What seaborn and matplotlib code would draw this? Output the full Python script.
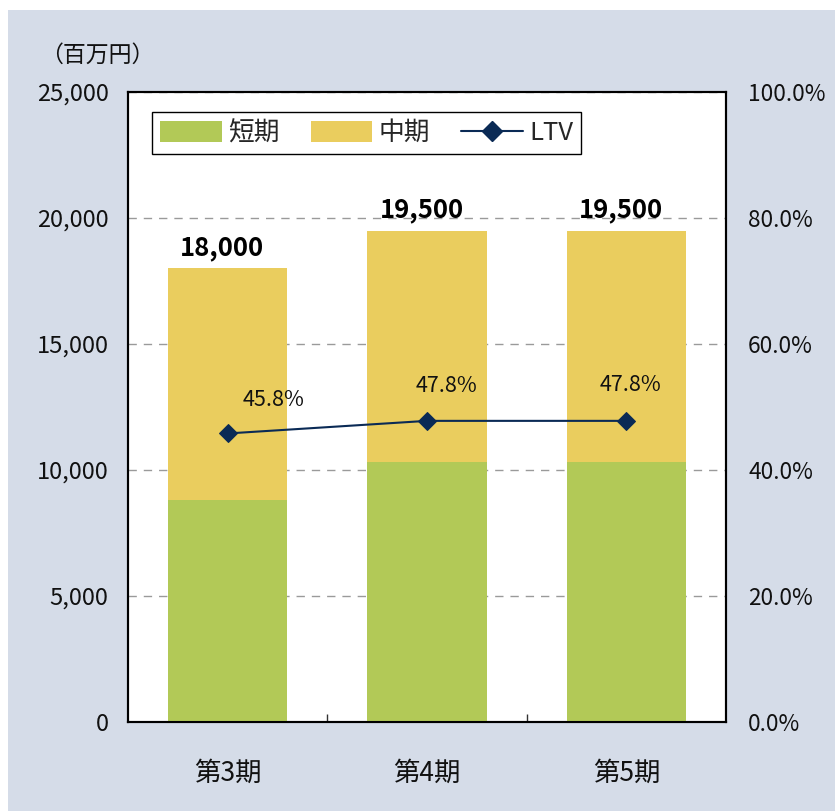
import matplotlib
matplotlib.use("Agg")
import matplotlib.pyplot as plt
import seaborn as sns
import pandas as pd
from matplotlib.patches import Patch, Rectangle
from matplotlib.lines import Line2D
from matplotlib.ticker import FuncFormatter, MultipleLocator, FixedLocator

# ---- data ----
periods = ["第3期", "第4期", "第5期"]
short_term = [8800, 10300, 10300]
mid_term = [9200, 9200, 9200]
totals = [18000, 19500, 19500]
ltv = [45.8, 47.8, 47.8]
series_names = ["短期", "中期", "LTV"]
unit_label = "（百万円）"

# ---- style ----
sns.set_theme(style="white")
plt.rcParams["font.family"] = ["Noto Sans CJK JP", "DejaVu Sans"]

GREEN = "#B2C957"
YELLOW = "#EACD5E"
NAVY = "#0A2A55"
BG = "#D5DCE8"

fig = plt.figure(figsize=(8.35, 8.11), dpi=100, facecolor="white")
fig.patches.append(Rectangle((8 / 835, 0), 1, 1 - 10 / 811, transform=fig.transFigure,
                             facecolor=BG, edgecolor="none", zorder=-10))
ax = fig.add_axes([128 / 835, 1 - 722 / 811, (726 - 128) / 835, (722 - 92) / 811])
ax.set_facecolor("white")

df = pd.DataFrame({"period": periods, "short": short_term, "mid": mid_term, "total": totals})
sns.barplot(data=df, x="period", y="total", color=YELLOW, width=0.6, ax=ax,
            saturation=1, linewidth=0, zorder=2)
sns.barplot(data=df, x="period", y="short", color=GREEN, width=0.6, ax=ax,
            saturation=1, linewidth=0, zorder=3)

ax.set_ylim(0, 25000)
ax.set_xlim(-0.5, 2.5)
ax.yaxis.set_major_locator(MultipleLocator(5000))
ax.yaxis.set_major_formatter(FuncFormatter(lambda v, p: f"{int(v):,}"))
ax.grid(axis="y", color="#9A9A9A", linestyle=(0, (6, 5)), linewidth=1.0, zorder=1)
ax.grid(axis="x", visible=False)
ax.set_axisbelow(True)
ax.set_xlabel("")
ax.set_ylabel("")
for s in ax.spines.values():
    s.set_color("black")
    s.set_linewidth(1.5)
ax.tick_params(axis="y", length=0, pad=14, labelsize=17, labelcolor="#111111")
ax.tick_params(axis="x", which="major", length=0, pad=27, labelsize=19, labelcolor="#111111")
ax.xaxis.set_minor_locator(FixedLocator([0.5, 1.5]))
ax.tick_params(axis="x", which="minor", bottom=True, direction="in", length=6, width=1,
               color="#333333")

for i, t in enumerate(totals):
    ax.annotate(f"{t:,}", xy=(i, t), xytext=(-4, 5), textcoords="offset points",
                ha="center", va="bottom", fontsize=18.5, fontweight="bold", color="black")

# ---- LTV line ----
ax2 = ax.twinx()
sns.lineplot(x=periods, y=ltv, ax=ax2, color=NAVY, linewidth=1.5, marker="D",
             markersize=9, markeredgecolor=NAVY, sort=False, zorder=5)
ax2.set_ylim(0, 100)
ax2.set_xlim(-0.5, 2.5)
ax2.yaxis.set_major_locator(MultipleLocator(20))
ax2.yaxis.set_major_formatter(FuncFormatter(lambda v, p: f"{v:.1f}%"))
ax2.tick_params(axis="y", length=0, pad=16, labelsize=16.3, labelcolor="#111111")
ax2.set_ylabel("")
ax2.grid(False)
for s in ax2.spines.values():
    s.set_color("black")
    s.set_linewidth(1.5)

label_offsets = [(33, 16), (14, 17), (3, 18)]
for i, (v, off) in enumerate(zip(ltv, label_offsets)):
    ax2.annotate(f"{v:.1f}%", xy=(i, v), xytext=off, textcoords="offset points",
                 ha="center", va="bottom", fontsize=15.5, color="#111111")

# ---- legend ----
handles = [Patch(facecolor=GREEN, edgecolor="none"),
           Patch(facecolor=YELLOW, edgecolor="none"),
           Line2D([0], [0], color=NAVY, lw=1.5, marker="D", markersize=10)]
leg = ax2.legend(handles, series_names, loc="upper left",
                 bbox_to_anchor=(24 / 598, 1 - 20 / 630), borderaxespad=0,
                 ncol=3, fontsize=18.5, frameon=True, fancybox=False,
                 edgecolor="black", handlelength=2.4, handleheight=0.85,
                 handletextpad=0.25, columnspacing=1.2, borderpad=0.32)
leg.get_frame().set_linewidth(1.0)
leg.get_frame().set_alpha(1)

fig.text(97 / 835, 1 - 55 / 811, unit_label, ha="center", va="center",
         fontsize=16.5, color="#111111")

fig.savefig("out.png", dpi=100, facecolor=fig.get_facecolor())
